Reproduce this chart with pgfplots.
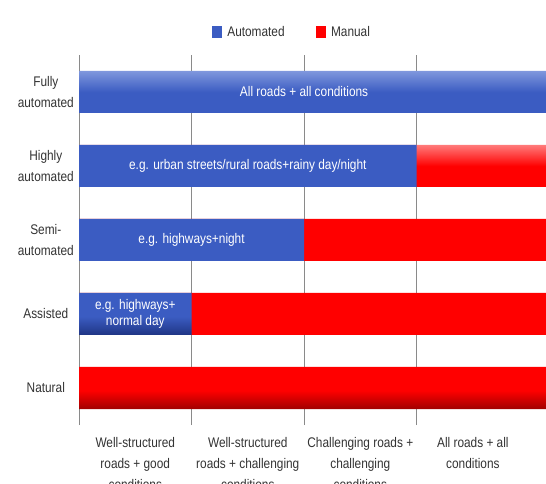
\documentclass[border=0pt]{standalone}
\usepackage{pgfplots}
\pgfplotsset{compat=1.18}
\usepackage{fontspec}
\setmainfont[FakeStretch=0.85]{Liberation Sans}
\definecolor{bluemain}{HTML}{3B5CC2}
\definecolor{bluelight}{HTML}{7F97DD}
\definecolor{bluedark}{HTML}{1F3584}
\definecolor{redmain}{HTML}{FF0000}
\definecolor{redlight}{HTML}{FF7A7A}
\definecolor{reddark}{HTML}{A00000}
\definecolor{gridgray}{HTML}{8A8A8A}
\definecolor{labgray}{HTML}{333333}
\pgfdeclareverticalshading{barblue}{100bp}{color(0bp)=(bluedark); color(25bp)=(bluedark); color(28.5bp)=(bluemain); color(71bp)=(bluemain); color(75bp)=(bluelight); color(100bp)=(bluelight)}
\pgfdeclareverticalshading{barred}{100bp}{color(0bp)=(reddark); color(25bp)=(reddark); color(28.5bp)=(redmain); color(71bp)=(redmain); color(75bp)=(redlight); color(100bp)=(redlight)}
\newcommand{\lab}{\fontsize{14}{21}\selectfont}
\begin{document}
\begin{tikzpicture}
\begin{axis}[
  at={(79bp,59bp)}, anchor=south west,
  scale only axis, width=467bp, height=370bp,
  xbar, bar width=42bp, bar shift=0pt,
  xmin=0, xmax=4.15, ymin=-0.5, ymax=4.5,
  axis line style={draw=none},
  xtick={0.5,1.5,2.5,3.5},
  xticklabels={{Well-structured\\roads + good\\conditions},{Well-structured\\roads + challenging\\conditions},{Challenging roads +\\challenging\\conditions},{All roads + all\\conditions}},
  xticklabel style={align=center, font=\lab, text=labgray, yshift=-9bp},
  minor xtick={0,1,2,3},
  xminorgrids, minor grid style={gridgray, line width=0.9bp},
  major tick length=0pt, minor tick length=0pt,
  ytick={0,1,2,3,4},
  yticklabels={Natural,Assisted,{Semi-\\automated},{Highly\\automated},{Fully\\automated}},
  yticklabel style={align=center, text width=58bp, inner sep=0pt, font=\lab, text=labgray, xshift=-4bp},
  legend columns=2,
  legend style={draw=none, fill=none, at={(0.456,1)}, anchor=center, yshift=23bp, font=\lab, text=labgray,
    /tikz/every odd column/.append style={column sep=4bp},
    /tikz/every even column/.append style={column sep=29bp}},
]
\addlegendimage{legend image code/.code={\fill[bluemain] (0bp,-5.5bp) rectangle (9bp,5.5bp);}}
\addlegendentry{Automated}
\addlegendimage{legend image code/.code={\fill[redmain] (0bp,-5.5bp) rectangle (9bp,5.5bp);}}
\addlegendentry{Manual}
% Manual share: from the end of the automated part to the right edge
\addplot[forget plot, draw=none, shade, shading=barred] coordinates {(4.2,0) (4.2,1) (4.2,2) (4.2,3)};
% Automated share
\addplot[forget plot, draw=none, shade, shading=barblue] coordinates {(1,1) (2,2) (3,3) (4.2,4)};
\node[white, font=\lab] at (axis cs:2,4) {All roads + all conditions};
\node[white, font=\lab] at (axis cs:1.5,3) {e.g. urban streets/rural roads+rainy day/night};
\node[white, font=\lab] at (axis cs:1,2) {e.g. highways+night};
\node[white, font=\fontsize{14}{16}\selectfont, align=center] at (axis cs:0.5,1) {e.g. highways+\\normal day};
\end{axis}
\pgfresetboundingbox
\path[use as bounding box] (0bp,0bp) rectangle (546bp,484bp);
\end{tikzpicture}
\end{document}
